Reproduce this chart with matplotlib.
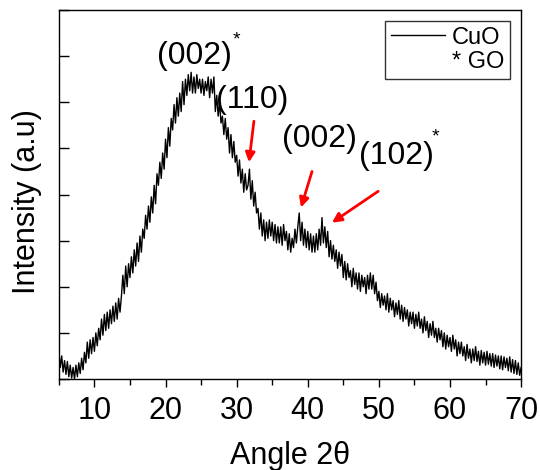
import numpy as np
import matplotlib
matplotlib.use("Agg")
import matplotlib.pyplot as plt
from matplotlib.lines import Line2D

plt.rcParams['font.family'] = ['Liberation Sans', 'DejaVu Sans']

# 2theta from 5 to 70 in 0.2 degree steps
angle_start = 5.0
angle_step = 0.2
intensity = [
    0.60, 0.25, 0.50, 0.15, 0.40,
    0.10, 0.38, 0.05, 0.30, 0.02,
    0.25, 0.00, 0.30, 0.05, 0.35,
    0.12, 0.45, 0.20, 0.58, 0.35,
    0.80, 0.45, 0.85, 0.55, 0.90,
    0.60, 1.00, 0.72, 1.10, 0.85,
    1.30, 0.95, 1.40, 1.05, 1.45,
    1.10, 1.50, 1.20, 1.58, 1.25,
    1.65, 1.30, 1.75, 1.45, 1.80,
    2.25, 1.85, 2.45, 2.00, 2.50,
    2.20, 2.65, 2.30, 2.80, 2.45,
    2.95, 2.55, 3.10, 2.75, 3.25,
    3.05, 3.55, 3.25, 3.75, 3.40,
    3.95, 3.60, 4.20, 3.80, 4.45,
    4.20, 4.70, 4.35, 4.90, 4.55,
    5.20, 4.80, 5.45, 5.05, 5.65,
    5.40, 5.95, 5.55, 6.10, 5.70,
    6.20, 5.80, 6.45, 5.95, 6.50,
    6.15, 6.60, 6.25, 6.65, 6.20,
    6.55, 6.20, 6.60, 6.30, 6.50,
    6.20, 6.50, 6.15, 6.45, 6.25,
    6.55, 6.10, 6.50, 6.20, 6.55,
    5.80, 6.15, 5.70, 6.00, 5.55,
    5.70, 5.30, 5.65, 5.20, 5.45,
    4.90, 5.30, 4.80, 5.15, 4.70,
    4.85, 4.40, 4.75, 4.25, 4.55,
    4.05, 4.45, 4.10, 4.20, 4.55,
    3.90, 4.30, 3.75, 4.05, 3.60,
    3.70, 3.25, 3.60, 3.10, 3.45,
    3.00, 3.40, 3.05, 3.45, 3.10,
    3.40, 3.00, 3.35, 2.95, 3.30,
    2.95, 3.30, 2.90, 3.35, 3.00,
    3.20, 2.80, 3.15, 2.75, 3.05,
    2.85, 3.25, 2.95, 3.30, 3.60,
    3.00, 3.40, 2.90, 3.25, 2.85,
    3.20, 2.80, 3.15, 2.75, 3.10,
    2.75, 3.15, 2.80, 3.25, 2.90,
    3.50, 2.95, 3.30, 2.85, 3.20,
    2.65, 3.00, 2.60, 2.90, 2.55,
    2.80, 2.40, 2.75, 2.45, 2.70,
    2.20, 2.55, 2.15, 2.50, 2.20,
    2.35, 2.00, 2.40, 2.05, 2.30,
    1.95, 2.30, 1.90, 2.25, 2.00,
    2.20, 1.85, 2.25, 1.95, 2.30,
    1.95, 2.25, 1.85, 2.10, 1.70,
    1.90, 1.55, 1.85, 1.60, 1.80,
    1.50, 1.85, 1.45, 1.75, 1.50,
    1.70, 1.35, 1.65, 1.40, 1.70,
    1.30, 1.60, 1.25, 1.55, 1.30,
    1.50, 1.15, 1.45, 1.20, 1.45,
    1.10, 1.40, 1.15, 1.45, 1.10,
    1.30, 1.00, 1.35, 1.05, 1.25,
    0.90, 1.20, 0.95, 1.25, 0.90,
    1.10, 0.80, 1.10, 0.85, 1.05,
    0.70, 1.00, 0.65, 0.95, 0.70,
    0.90, 0.60, 0.95, 0.65, 0.85,
    0.50, 0.80, 0.55, 0.80, 0.50,
    0.70, 0.40, 0.75, 0.45, 0.65,
    0.35, 0.65, 0.40, 0.70, 0.38,
    0.60, 0.30, 0.62, 0.35, 0.58,
    0.30, 0.60, 0.32, 0.55, 0.28,
    0.55, 0.25, 0.52, 0.28, 0.50,
    0.22, 0.50, 0.20, 0.48, 0.25,
    0.45, 0.18, 0.48, 0.15, 0.42,
    0.12, 0.40, 0.10, 0.35, 0.08,
    0.25,
]
angle = angle_start + angle_step * np.arange(len(intensity))

x_ticks = [10, 20, 30, 40, 50, 60, 70]
x_label = "Angle 2θ"
y_label = "Intensity (a.u)"

# peak labels: (text, x, y)
peak_labels = [("(002)", 24.1, 7.0), ("(110)", 32.15, 6.04),
               ("(002)", 41.7, 5.2), ("(102)", 52.4, 4.83)]
star_marks = [(30.0, 7.35), (57.9, 5.25)]
# arrows: (tail_x, tail_y, head_x, head_y)
arrows = [(32.43, 5.59, 31.73, 4.70),
          (40.6, 4.5, 39.05, 3.72),
          (49.9, 4.07, 43.4, 3.39)]

fig = plt.figure(figsize=(5.4, 4.7), dpi=100)
ax = fig.add_axes([0.109, 0.1936, 0.856, 0.785])
ax.plot(angle, intensity, color='black', lw=1.0)
ax.set_xlim(5, 70)
ax.set_ylim(0, 8)
ax.set_xticks(x_ticks)
ax.set_xticks(np.arange(5, 71, 5), minor=True)
ax.set_yticks(np.arange(0, 9, 1))
ax.set_yticklabels([])
ax.tick_params(axis='x', which='major', direction='out', length=6, width=1, labelsize=22, pad=6)
ax.tick_params(axis='x', which='minor', direction='out', length=4, width=1)
ax.tick_params(axis='y', which='major', direction='in', length=7, width=1)
for s in ax.spines.values():
    s.set_linewidth(1.0)
ax.set_xlabel(x_label, fontsize=22, labelpad=11)
ax.set_ylabel(y_label, fontsize=22)
ax.yaxis.set_label_coords(-0.037, 0.48)

for t, x, y in peak_labels:
    ax.text(x, y, t, fontsize=23, ha='center', va='center')
for x, y in star_marks:
    ax.text(x, y, "*", fontsize=14, ha='center', va='center')
for tx, ty, hx, hy in arrows:
    ax.annotate("", xy=(hx, hy), xytext=(tx, ty),
                arrowprops=dict(arrowstyle='-|>', color='red', lw=2, mutation_scale=14,
                                shrinkA=0, shrinkB=0))

handles = [Line2D([], [], color='black', lw=1), Line2D([], [], color='none')]
leg = ax.legend(handles, ["CuO", "* GO"], loc='upper right', fontsize=17,
                frameon=True, fancybox=False, edgecolor='black', handlelength=2.3,
                borderaxespad=0.45, labelspacing=0.1, handletextpad=0.3,
                borderpad=0.25, markerfirst=True)
leg.get_frame().set_linewidth(1.0)

fig.savefig("out.png", dpi=100)
